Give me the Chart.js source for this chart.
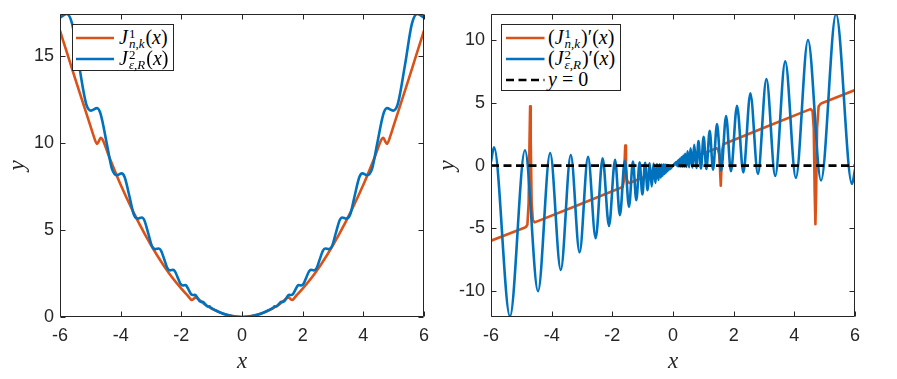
<!DOCTYPE html>
<html>
<head>
<meta charset="utf-8">
<script src="https://cdn.jsdelivr.net/npm/chart.js@4.4.1/dist/chart.umd.min.js"></script>
<style>
    html, body { margin: 0; padding: 0; background: #fff; }
    #wrap { position: relative; width: 897px; height: 379px; overflow: hidden; }
    canvas { position: absolute; top: 0; }
    .legend { position: absolute; box-sizing: border-box; border: 1px solid #262626; background: #fff; }
    .row { position: absolute; left: 0; height: 21px; display: flex; align-items: center; }
    .row svg { display: block; flex: none; }
    .math { font-family: 'Liberation Serif', 'DejaVu Serif', serif; font-size: 20px; line-height: 21px; white-space: nowrap; color: #000; }
    .ss { display: inline-flex; flex-direction: column; font-size: 13px; line-height: 10px; vertical-align: 6px; margin-left: 1px; margin-right: 1px; }
</style>
</head>
<body>
<div id="wrap">
    <canvas id="leftChart" width="430" height="379" style="left:0;width:430px;height:379px"></canvas>
    <canvas id="rightChart" width="467" height="379" style="left:430px;width:467px;height:379px"></canvas>

    <div class="legend" style="left:72px;top:24px;width:102px;height:47px">
        <div class="row" style="top:2px">
            <svg width="38" height="6" style="margin-left:3px;margin-right:5px"><line x1="0" y1="3" x2="38" y2="3" stroke="#D95319" stroke-width="2.6"/></svg>
            <span class="math"><i>J</i><span class="ss"><span>1</span><span><i>n</i>,<i>k</i></span></span>(<i>x</i>)</span>
        </div>
        <div class="row" style="top:23px">
            <svg width="38" height="6" style="margin-left:3px;margin-right:5px"><line x1="0" y1="3" x2="38" y2="3" stroke="#0072BD" stroke-width="2.6"/></svg>
            <span class="math"><i>J</i><span class="ss"><span>2</span><span><i>ε</i>,<i>R</i></span></span>(<i>x</i>)</span>
        </div>
    </div>

    <div class="legend" style="left:501px;top:24px;width:120px;height:67px">
        <div class="row" style="top:2px">
            <svg width="39" height="6" style="margin-left:4px;margin-right:3px"><line x1="0" y1="3" x2="38.5" y2="3" stroke="#D95319" stroke-width="2.6"/></svg>
            <span class="math">(<i>J</i><span class="ss"><span>1</span><span><i>n</i>,<i>k</i></span></span>)′(<i>x</i>)</span>
        </div>
        <div class="row" style="top:23px">
            <svg width="39" height="6" style="margin-left:4px;margin-right:3px"><line x1="0" y1="3" x2="38.5" y2="3" stroke="#0072BD" stroke-width="2.6"/></svg>
            <span class="math">(<i>J</i><span class="ss"><span>2</span><span><i>ε</i>,<i>R</i></span></span>)′(<i>x</i>)</span>
        </div>
        <div class="row" style="top:44px">
            <svg width="39" height="6" style="margin-left:4px;margin-right:3px"><line x1="0" y1="3" x2="38.5" y2="3" stroke="#000" stroke-width="2.6" stroke-dasharray="8 4.5"/></svg>
            <span class="math"><i>y</i> = 0</span>
        </div>
    </div>
</div>

<script>
// ── Data ────────────────────────────────────────────────
const xTicks = [-6, -4, -2, 0, 2, 4, 6];
const yTicksLeft = [0, 5, 10, 15];
const yTicksRight = [-10, -5, 0, 5, 10];

// J^1_{n,k}(x)
const j1X = [-6, -5.7, -5.4, -5.0, -4.9, -4.78, -4.72, -4.66, -4.6, -4.4, -4.0, -3.6, -3.2, -2.8, -2.4, -2.0, -1.8, -1.65, -1.6, -1.54, -1.48, -1.2, -0.8, -0.4,
             0, 0.4, 0.8, 1.2, 1.48, 1.54, 1.6, 1.65, 1.8, 2.0, 2.4, 2.8, 3.2, 3.6, 4.0, 4.4, 4.6, 4.66, 4.72, 4.78, 4.9, 5.0, 5.4, 5.7, 6];
const j1Y = [16.45, 14.8, 13.15, 11.0, 10.45, 9.95, 10.1, 10.3, 10.2, 9.3, 7.6, 6.1, 4.75, 3.55, 2.5, 1.63, 1.25, 0.98, 1.03, 1.13, 1.08, 0.69, 0.31, 0.08,
             0, 0.08, 0.31, 0.69, 1.08, 1.13, 1.03, 0.98, 1.25, 1.63, 2.5, 3.55, 4.75, 6.1, 7.6, 9.3, 10.2, 10.3, 10.1, 9.95, 10.45, 11.0, 13.15, 14.8, 16.45];

// J^2_{eps,R}(x)
const j2X = [-6.0, -5.78, -5.6, -5.375, -5.13, -4.98, -4.78, -4.66, -4.45, -4.29, -4.13, -3.97, -3.87, -3.70, -3.57, -3.44, -3.30, -3.22, -3.08, -2.97,
             -2.86, -2.74, -2.67, -2.55, -2.46, -2.37, -2.27, -2.21, -2.11, -2.03, -1.95, -1.87, -1.83, -1.75, -1.68, -1.62, -1.56, -1.52, -1.45, -1.40,
             -1.35, -1.29, -1.21, -1.12, -1.08, -1.01, -0.9, -0.7, -0.5, -0.3,
             0,
             0.3, 0.5, 0.7, 0.9, 1.01, 1.08, 1.12, 1.21, 1.29, 1.35, 1.40, 1.45, 1.52, 1.56, 1.62, 1.68, 1.75, 1.83, 1.87, 1.95,
             2.03, 2.11, 2.21, 2.27, 2.37, 2.46, 2.55, 2.67, 2.74, 2.86, 2.97, 3.08, 3.22, 3.30, 3.44, 3.57, 3.70, 3.87, 3.97, 4.13,
             4.29, 4.45, 4.66, 4.78, 4.98, 5.13, 5.375, 5.6, 5.78, 6.0];
const j2Y = [17.2, 17.41, 16.84, 14.5, 12.2, 11.86, 12.0, 11.66, 9.9, 8.52, 8.15, 8.25, 8.04, 6.85, 5.9, 5.65, 5.72, 5.56, 4.74, 4.08,
             3.90, 3.94, 3.82, 3.25, 2.81, 2.68, 2.71, 2.62, 2.23, 1.91, 1.81, 1.83, 1.79, 1.53, 1.31, 1.26, 1.27, 1.24, 1.05, 0.91,
             0.87, 0.88, 0.73, 0.60, 0.61, 0.51, 0.41, 0.245, 0.125, 0.045,
             0,
             0.045, 0.125, 0.245, 0.41, 0.51, 0.61, 0.60, 0.73, 0.88, 0.87, 0.91, 1.05, 1.24, 1.27, 1.26, 1.31, 1.53, 1.79, 1.83, 1.81,
             1.91, 2.23, 2.62, 2.71, 2.68, 2.81, 3.25, 3.82, 3.94, 3.90, 4.08, 4.74, 5.56, 5.72, 5.65, 5.9, 6.85, 8.04, 8.25, 8.15,
             8.52, 9.9, 11.66, 12.0, 11.86, 12.2, 14.5, 16.84, 17.41, 17.2];

// (J^1_{n,k})'(x)
const dj1X = [-6, -4.9, -4.85, -4.8, -4.76, -4.73, -4.71, -4.69, -4.66, -4.62, -4.56,
              -3.1, -1.66, -1.62, -1.6, -1.575, -1.55, -1.52, -1.48, -1.44,
              0,
              1.44, 1.48, 1.52, 1.55, 1.575, 1.6, 1.62, 1.66, 3.1,
              4.53, 4.6, 4.64, 4.67, 4.695, 4.72, 4.75, 4.8, 4.86, 4.9, 6];
const dj1Y = [-5.98, -4.95, -4.88, -4.7, -3.0, 2.0, 4.72, 2.0, -3.0, -4.35, -4.52,
              -3.12, -1.7, -1.2, 0.0, 1.59, 0.0, -1.1, -1.32, -1.38,
              0,
              1.38, 1.3, 0.9, -0.3, -1.59, 0.0, 1.2, 1.7, 3.12,
              4.5, 4.35, 3.0, -2.0, -4.66, -2.0, 3.0, 4.7, 4.9, 4.97, 6.02];

// (J^2_{eps,R})'(x)  (peaks and troughs)
const dj2X = [-6.0, -5.9, -5.375, -4.88, -4.45, -4.05, -3.70, -3.37, -3.08, -2.8, -2.55, -2.32, -2.11, -1.91, -1.75, -1.59, -1.45, -1.32,
              -1.21, -1.1, -1.01, -0.92, -0.84, -0.77, -0.70, -0.64, -0.58, -0.53, -0.48, -0.44, -0.40, -0.37, -0.34, -0.31, -0.28, -0.254,
              -0.23, -0.21, -0.19, -0.175, -0.16, -0.145, -0.13,
              0,
              0.13, 0.145, 0.16, 0.175, 0.19, 0.21, 0.23, 0.254, 0.28, 0.31, 0.34, 0.37, 0.40, 0.44, 0.48, 0.53, 0.58, 0.64, 0.70, 0.77,
              0.84, 0.92, 1.01, 1.1, 1.21, 1.32, 1.45, 1.59, 1.75, 1.91, 2.11, 2.32, 2.55, 2.8, 3.08, 3.37, 3.70, 4.05, 4.45, 4.88,
              5.375, 5.9, 6.0];
const dj2Y = [0.3, 1.46, -12.0, 1.22, -10.0, 1.0, -8.3, 0.85, -6.9, 0.7, -5.78, 0.58, -4.8, 0.47, -3.95, 0.38, -3.28, 0.32,
              -2.75, 0.27, -2.3, 0.23, -1.95, 0.19, -1.65, 0.16, -1.38, 0.13, -1.14, 0.11, -0.95, 0.09, -0.8, 0.08, -0.66, 0.06,
              -0.55, 0.05, -0.45, 0.04, -0.38, 0.035, -0.31,
              0,
              0.31, -0.035, 0.38, -0.04, 0.45, -0.05, 0.55, -0.06, 0.66, -0.08, 0.8, -0.09, 0.95, -0.11, 1.14, -0.13, 1.38, -0.16, 1.65, -0.19,
              1.95, -0.23, 2.3, -0.27, 2.77, -0.32, 3.3, -0.38, 3.95, -0.45, 4.77, -0.55, 5.75, -0.66, 6.9, -0.82, 8.3, -0.97, 10.0, -1.18,
              12.07, -1.46, -0.3];

// y = 0 reference line
const zeroX = [-6, 6];
const zeroY = [0, 0];

// ── Styling ─────────────────────────────────────────────
const ORANGE = '#D95319';
const BLUE = '#0072BD';
const AXIS = '#262626';

const pts = (xs, ys) => xs.map((x, i) => ({ x, y: ys[i] }));

// box round the plot area with inward ticks on all four sides
const framePlugin = {
    id: 'frame',
    afterDatasetsDraw(chart) {
        const { ctx, chartArea: a, scales } = chart;
        const L = Math.round(a.left) + 0.5, R = Math.round(a.right) - 0.5;
        const T = Math.round(a.top) + 0.5, B = Math.round(a.bottom) - 0.5;
        const len = 5;
        ctx.save();
        ctx.strokeStyle = AXIS;
        ctx.lineWidth = 1;
        ctx.beginPath();
        ctx.rect(L, T, R - L, B - T);
        scales.x.ticks.forEach(t => {
            const px = Math.round(scales.x.getPixelForValue(t.value)) + 0.5;
            ctx.moveTo(px, B); ctx.lineTo(px, B - len);
            ctx.moveTo(px, T); ctx.lineTo(px, T + len);
        });
        scales.y.ticks.forEach(t => {
            const py = Math.round(scales.y.getPixelForValue(t.value)) + 0.5;
            ctx.moveTo(L, py); ctx.lineTo(L + len, py);
            ctx.moveTo(R, py); ctx.lineTo(R - len, py);
        });
        ctx.stroke();
        ctx.restore();
    }
};

function makeChart(id, datasets, yMin, yMax, yTicks, yWidth, padRight, yTitlePad) {
    const tickFont = { family: "'Liberation Sans', Arial, sans-serif", size: 18 };
    const titleFont = { family: "'Liberation Serif', serif", size: 23, style: 'italic' };
    const noGrid = { display: false, drawTicks: false, tickLength: 0 };
    return new Chart(document.getElementById(id), {
        type: 'line',
        data: { datasets },
        options: {
            responsive: false,
            animation: false,
            devicePixelRatio: 1,
            layout: { padding: { top: 14, right: padRight, bottom: 0, left: 0 } },
            plugins: { legend: { display: false }, tooltip: { enabled: false } },
            elements: { point: { radius: 0 }, line: { borderWidth: 2.6, borderJoinStyle: 'round', borderCapStyle: 'round' } },
            scales: {
                x: {
                    type: 'linear', min: -6, max: 6,
                    afterBuildTicks: s => { s.ticks = xTicks.map(v => ({ value: v })); },
                    afterFit: s => { s.height = 62; s.paddingLeft = 0; s.paddingRight = 0; },
                    grid: noGrid, border: { display: false },
                    ticks: { color: AXIS, font: tickFont, padding: 8, maxRotation: 0, autoSkip: false },
                    title: { display: true, text: 'x', color: AXIS, font: titleFont, padding: { top: 0, bottom: 3 } }
                },
                y: {
                    type: 'linear', min: yMin, max: yMax,
                    afterBuildTicks: s => { s.ticks = yTicks.map(v => ({ value: v })); },
                    afterFit: s => { s.width = yWidth; s.paddingTop = 0; s.paddingBottom = 0; },
                    grid: noGrid, border: { display: false },
                    ticks: { color: AXIS, font: tickFont, padding: 6 },
                    title: { display: true, text: 'y', color: AXIS, font: titleFont, padding: { top: yTitlePad, bottom: 0 } }
                }
            }
        },
        plugins: [framePlugin]
    });
}

// ── Left panel: J ───────────────────────────────────────
makeChart('leftChart', [
    { label: 'J2', data: pts(j2X, j2Y), borderColor: BLUE, cubicInterpolationMode: 'monotone', order: 1 },
    { label: 'J1', data: pts(j1X, j1Y), borderColor: ORANGE, cubicInterpolationMode: 'monotone', order: 2 }
], 0, 17.41, yTicksLeft, 60, 6, 4);

// ── Right panel: J' ─────────────────────────────────────
makeChart('rightChart', [
    { label: 'y = 0', data: pts(zeroX, zeroY), borderColor: '#000', borderDash: [8, 4.5], borderCapStyle: 'butt', order: 0 },
    { label: "J2'", data: pts(dj2X, dj2Y), borderColor: BLUE, cubicInterpolationMode: 'monotone', order: 1 },
    { label: "J1'", data: pts(dj1X, dj1Y), borderColor: ORANGE, tension: 0, order: 2 }
], -12.05, 12.07, yTicksRight, 61, 42, 4);
</script>
</body>
</html>
